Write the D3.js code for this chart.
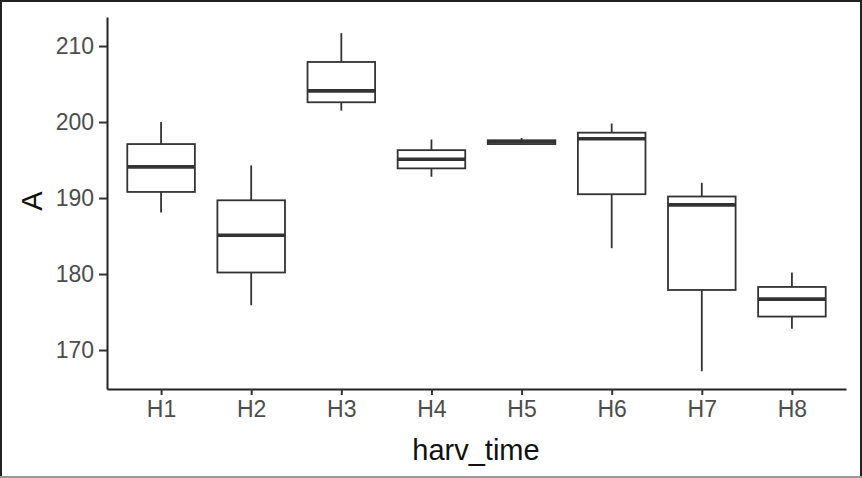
<!DOCTYPE html>
<html>
<head>
<meta charset="utf-8">
<script src="https://cdn.jsdelivr.net/npm/d3@7"></script>
<style>
  body { margin: 0; background: #fff; }
  svg { display: block; }
</style>
</head>
<body>
<svg width="862" height="478"></svg>
<script>
const width = 862,
    height = 478;

// five-number summaries
const categories = ["H1", "H2", "H3", "H4", "H5", "H6", "H7", "H8"];
const whiskerLow = [188.1, 175.9, 201.5, 192.8, 197.0, 183.4, 167.2, 172.8];
const q1 = [190.8, 180.2, 202.6, 193.9, 197.1, 190.5, 177.9, 174.4];
const median = [194.1, 185.1, 204.1, 195.1, 197.4, 197.8, 189.1, 176.7];
const q3 = [197.1, 189.7, 207.9, 196.3, 197.6, 198.6, 190.2, 178.3];
const whiskerHigh = [200.0, 194.3, 211.7, 197.7, 197.9, 199.8, 192.0, 180.2];
const yTicks = [170, 180, 190, 200, 210];

const boxes = categories.map((c, i) => ({
  cat: c, lo: whiskerLow[i], q1: q1[i], med: median[i], q3: q3[i], hi: whiskerHigh[i]
}));

const svg = d3.select("svg");

// frame around the picture
svg.append("rect")
  .attr("x", 1).attr("y", 1)
  .attr("width", width - 2).attr("height", height - 2)
  .attr("fill", "none")
  .attr("stroke", "#222")
  .attr("stroke-width", 2);
svg.append("line")
  .attr("x1", 0).attr("x2", width)
  .attr("y1", height - 1).attr("y2", height - 1)
  .attr("stroke", "#999").attr("stroke-width", 2);

const x = d3.scalePoint()
  .domain(categories)
  .range([107, 846])
  .padding(0.6);

const y = d3.scaleLinear()
  .domain([164.87, 213.82])
  .range([389, 17]);

const bw = x.step() * 0.75;

// axes
const yAxis = svg.append("g")
  .attr("transform", "translate(107,0)")
  .call(d3.axisLeft(y).tickValues(yTicks).tickSize(8).tickPadding(5).tickSizeOuter(0));

const xAxis = svg.append("g")
  .attr("transform", "translate(0,389)")
  .call(d3.axisBottom(x).tickSize(6).tickPadding(6).tickSizeOuter(0));

[yAxis, xAxis].forEach(g => {
  g.select(".domain").attr("stroke", "#222").attr("stroke-width", 2);
  g.selectAll(".tick line").attr("stroke", "#333").attr("stroke-width", 2);
  g.selectAll(".tick text")
    .attr("fill", "#4d4d4d")
    .style("font-family", "Liberation Sans, Arial, sans-serif")
    .style("font-size", "23px");
});

// boxes
const g = svg.append("g")
  .selectAll("g")
  .data(boxes)
  .join("g");

g.append("line")
  .attr("x1", d => x(d.cat)).attr("x2", d => x(d.cat))
  .attr("y1", d => y(d.hi)).attr("y2", d => y(d.q3))
  .attr("stroke", "#333").attr("stroke-width", 1.8);

g.append("line")
  .attr("x1", d => x(d.cat)).attr("x2", d => x(d.cat))
  .attr("y1", d => y(d.q1)).attr("y2", d => y(d.lo))
  .attr("stroke", "#333").attr("stroke-width", 1.8);

g.append("rect")
  .attr("x", d => x(d.cat) - bw / 2)
  .attr("width", bw)
  .attr("y", d => y(d.q3))
  .attr("height", d => y(d.q1) - y(d.q3))
  .attr("fill", "#fff")
  .attr("stroke", "#333")
  .attr("stroke-width", 1.8);

g.append("line")
  .attr("x1", d => x(d.cat) - bw / 2).attr("x2", d => x(d.cat) + bw / 2)
  .attr("y1", d => y(d.med)).attr("y2", d => y(d.med))
  .attr("stroke", "#333").attr("stroke-width", 3.6);

// axis titles
svg.append("text")
  .attr("x", 476).attr("y", 460)
  .attr("text-anchor", "middle")
  .style("font-family", "Liberation Sans, Arial, sans-serif")
  .style("font-size", "29px")
  .attr("fill", "#111")
  .text("harv_time");

svg.append("text")
  .attr("transform", "translate(42,201) rotate(-90)")
  .attr("text-anchor", "middle")
  .style("font-family", "Liberation Sans, Arial, sans-serif")
  .style("font-size", "29px")
  .attr("fill", "#111")
  .text("A");
</script>
</body>
</html>
